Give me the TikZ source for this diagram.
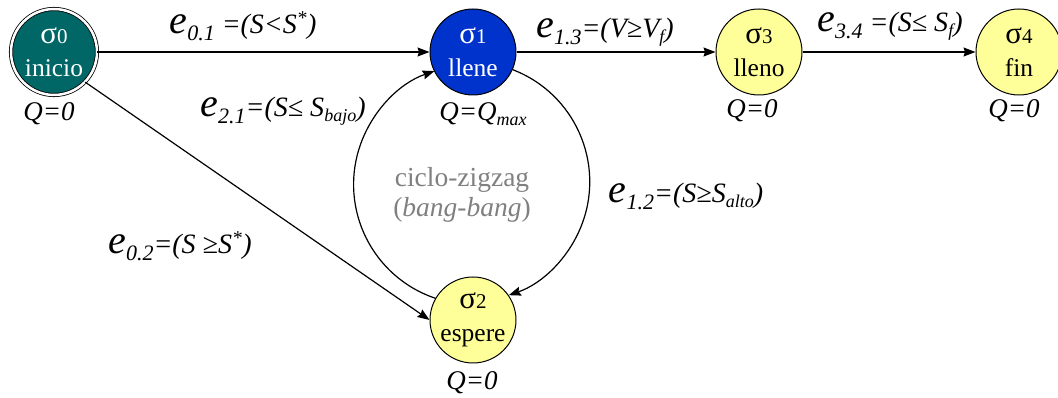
\documentclass[tikz,border=0pt]{standalone}
\usepackage{fontspec}
\setmainfont{Liberation Serif}
\usetikzlibrary{arrows.meta}
\definecolor{tealc}{RGB}{0,102,102}
\definecolor{bluec}{RGB}{0,51,204}
\definecolor{yellowc}{RGB}{255,255,153}
\definecolor{grayc}{RGB}{128,128,128}
\newcommand\bigE{{\fontsize{40}{40}\selectfont e}}
\newcommand\esub[1]{\raisebox{-7pt}{\fontsize{22}{22}\selectfont #1}}
\newcommand\lsub[1]{\raisebox{-5pt}{\fontsize{18}{18}\selectfont #1}}
\newcommand\ssig[1]{{\fontsize{31}{31}\selectfont σ}{\fontsize{21}{21}\selectfont #1}}
\begin{document}
\begin{tikzpicture}[x=1pt,y=1pt,
  state/.style={circle,draw=black,line width=1pt,minimum size=86pt,inner sep=0pt,
    align=center,font=\fontsize{25.5}{33}\selectfont},
  qlab/.style={font=\fontsize{27}{27}\selectfont\itshape,inner sep=0pt},
  elab/.style={font=\fontsize{28}{30}\selectfont\itshape,inner sep=0pt},
  cyc/.style={font=\fontsize{27.5}{30}\selectfont,text=grayc,align=center,inner sep=0pt},
  arr/.style={line width=1.2pt,-{Stealth[length=12pt,width=9pt,inset=1.5pt]}},
  ln/.style={line width=1.2pt}]
\useasboundingbox (0,0) rectangle (1058,398);
\begin{scope}
\clip (0,0) rectangle (1058,398);
\node[state,fill=tealc,text=white,double=white,double distance=2.5pt,line width=0.8pt] (s0) at (54,346) {\ssig{0}\\inicio};
\node[state,fill=bluec,text=white] (s1) at (473,346) {\ssig{1}\\llene};
\node[state,fill=yellowc] (s3) at (759,346) {\ssig{3}\\lleno};
\node[state,fill=yellowc] (s4) at (1019,346) {\ssig{4}\\fin};
\node[state,fill=yellowc] (s2) at (473,78) {\ssig{2}\\espere};
\end{scope}

\node[qlab] (q0) at (49,284) {Q=0};
\node[qlab] (q1) at (483,284) {Q=Q\lsub{max}};
\node[qlab] (q3) at (752,287) {Q=0};
\node[qlab] (q4) at (1014,287) {Q=0};
\node[qlab] (q2) at (472,15) {Q=0};

\draw[arr] (s0) -- (s1);
\draw[arr] (s1) -- (s3);
\draw[arr] (s3) -- (s4);
\draw[arr] (s0.-44) -- (s2.180);
\draw[arr] (s1.-24) arc[start angle=69,end angle=-71,radius=120];
\draw[arr] (s2.150) arc[start angle=-108.6,end angle=-251,radius=120];

\node[elab] (e01) at (243,372) {\bigE\esub{0.1} =(S<S\textsuperscript{*})};
\node[elab] (e13) at (605,366) {\bigE\esub{1.3}=(V≥V\lsub{f})};
\node[elab] (e34) at (890,372) {\bigE\esub{3.4} =(S≤ S\lsub{f})};
\node[elab] (e21) at (283,287) {\bigE\esub{2.1}=(S≤ S\lsub{bajo})};
\node[elab] (e12) at (686,202) {\bigE\esub{1.2}=(S≥S\lsub{alto})};
\node[elab] (e02) at (180,152) {\bigE\esub{0.2}=(S ≥S\textsuperscript{*})};

\node[cyc] (cz) at (462,203) {ciclo-zigzag\\(\textit{bang-bang})};
\end{tikzpicture}
\end{document}
